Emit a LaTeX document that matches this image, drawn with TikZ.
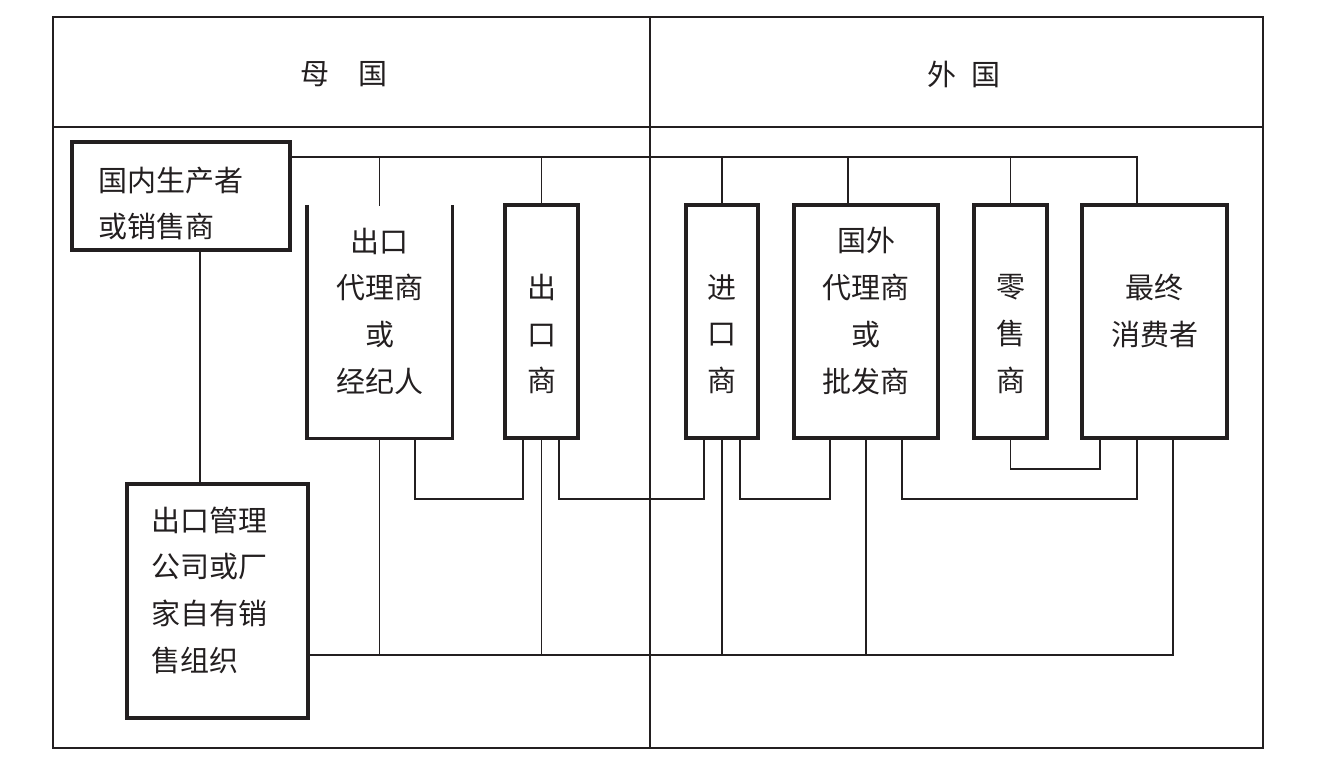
\documentclass[tikz,border=0pt]{standalone}
\usepackage{fontspec}
\newfontfamily\cjk{Noto Sans CJK SC}
\definecolor{ink}{HTML}{231F20}
\begin{document}
\begin{tikzpicture}[x=1pt,y=-1pt,
  frame/.style={draw=ink,line width=2.8pt},
  sep/.style={draw=ink,line width=1.6pt},
  box/.style={draw=ink,line width=3.4pt,inner sep=0pt},
  openbox/.style={inner sep=0pt},
  conn/.style={draw=ink,line width=1.4pt},
  txt/.style={font=\cjk\fontsize{29}{46.7}\selectfont,inner sep=0pt,text=ink},
  ]
\useasboundingbox (0,0) rectangle (1327,778);
% frame
\draw[frame] (53,17) rectangle (1263,748);
\draw[sep] (53,127) -- (1263,127);
\draw[sep, line width=1.4pt] (650,17) -- (650,748);
\node[txt] (hm) at (344,74) {母　国};
\node[txt] (hf) at (964,74) {外\hspace{16pt}国};
% level coordinates
\coordinate (busT) at (0,157);
\coordinate (busB) at (0,655);
\coordinate (lv1) at (0,499);
\coordinate (lv2) at (0,469);
% boxes
\node[box,minimum width=218pt,minimum height=108pt] (A) at (181,196) {};
\node[txt,anchor=west,align=left] (At) at (98,203.5) {国内生产者\\或销售商};
\node[openbox,minimum width=145pt,minimum height=233pt] (B) at (379.5,321.5) {};
\draw[box] (B.north west) -- (B.south west) -- (B.south east) -- (B.north east);
\node[txt,align=center] (Bt) at (379.5,311) {出口\\代理商\\或\\经纪人};
\node[box,minimum width=73pt,minimum height=233pt] (C) at (541.5,321.5) {};
\node[txt,align=center] (Ct) at (541.5,334) {出\\口\\商};
\node[box,minimum width=72pt,minimum height=233pt] (D) at (722,321.5) {};
\node[txt,align=center] (Dt) at (722,334) {进\\口\\商};
\node[box,minimum width=144pt,minimum height=233pt] (E) at (866,321.5) {};
\node[txt,align=center] (Et) at (866,311) {国外\\代理商\\或\\批发商};
\node[box,minimum width=73pt,minimum height=233pt] (F) at (1010.5,321.5) {};
\node[txt,align=center] (Ft) at (1010.5,334) {零\\售\\商};
\node[box,minimum width=145pt,minimum height=233pt] (G) at (1154.5,321.5) {};
\node[txt,align=center] (Gt) at (1154.5,311) {最终\\消费者};
\node[box,minimum width=181pt,minimum height=234pt] (H) at (217.5,601) {};
\node[txt,anchor=west,align=left] (Ht) at (151,590) {出口管理\\公司或厂\\家自有销\\售组织};
% top bus
\draw[conn] (A.east |- busT) -- ([xshift=-17.5pt]G.north |- busT) -- ([xshift=-17.5pt]G.north);
\draw[conn] (B.north |- busT) -- ([yshift=-1pt]B.north);
\draw[conn] (C.north |- busT) -- (C.north);
\draw[conn] (D.north |- busT) -- (D.north);
\draw[conn] ([xshift=-18pt]E.north |- busT) -- ([xshift=-18pt]E.north);
\draw[conn] (F.north |- busT) -- (F.north);
% A to H
\draw[conn] ([xshift=19pt]A.south) -- ([xshift=19pt]A.south |- H.north);
% bottom bus
\draw[conn] ([xshift=18.5pt]G.south) |- (H.east |- busB);
\draw[conn] (B.south) -- (B.south |- busB);
\draw[conn] (C.south) -- (C.south |- busB);
\draw[conn] (D.south) -- (D.south |- busB);
\draw[conn] (E.south) -- (E.south |- busB);
% pair links
\draw[conn] ([xshift=35.5pt]B.south) |- ([xshift=-18.5pt]C.south |- lv1) -- ([xshift=-18.5pt]C.south);
\draw[conn] ([xshift=17.5pt]C.south) |- ([xshift=-18pt]D.south |- lv1) -- ([xshift=-18pt]D.south);
\draw[conn] ([xshift=18pt]D.south) |- ([xshift=-36pt]E.south |- lv1) -- ([xshift=-36pt]E.south);
\draw[conn] ([xshift=36pt]E.south) |- ([xshift=-17.5pt]G.south |- lv1) -- ([xshift=-17.5pt]G.south);
\draw[conn] (F.south) |- ([xshift=-54.5pt]G.south |- lv2) -- ([xshift=-54.5pt]G.south);
\end{tikzpicture}
\end{document}
